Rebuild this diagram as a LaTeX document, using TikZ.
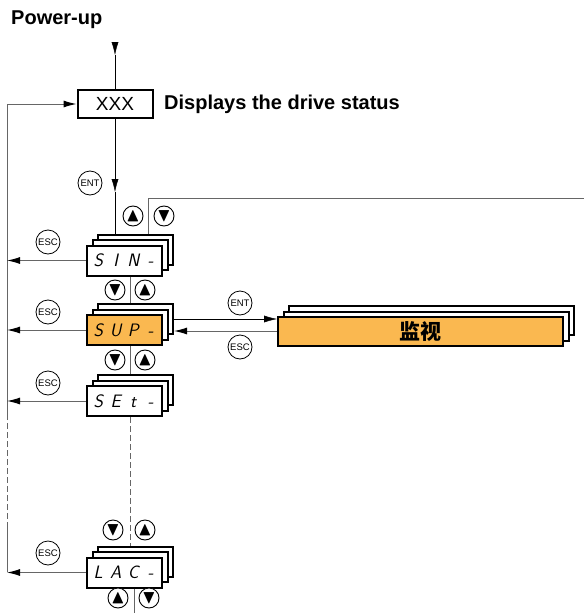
\documentclass[tikz,border=0pt]{standalone}
\usepackage{amsmath, amssymb}
\usepackage{fontspec}
\setmainfont{Liberation Sans}
\newfontfamily\cjk{Noto Sans CJK SC}
\usepackage{tikz}
\usetikzlibrary{positioning,arrows.meta}
\definecolor{monorange}{RGB}{250,184,80}
\newcommand{\seg}[4]{\makebox[17.5pt]{#1}\makebox[17.5pt]{#2}\makebox[17.5pt]{#3}\makebox[17.5pt]{#4}}
\newcommand{\up}{$\blacktriangle$}
\newcommand{\dn}{$\blacktriangledown$}

\begin{document}
\begin{tikzpicture}[x=1pt,y=-1pt]
\tikzstyle{card}=[rectangle, draw=black, line width=2pt, fill=white, minimum width=75pt, minimum height=30pt, inner sep=0pt, font=\sffamily\slshape\fontsize{18}{18}\selectfont]
\tikzstyle{key}=[circle, draw=black, line width=0.8pt, fill=white, minimum size=24pt, inner sep=0pt, font=\fontsize{9.5}{9.5}\selectfont]
\tikzstyle{arrowkey}=[circle, draw=black, line width=0.9pt, fill=white, minimum size=20pt, inner sep=0pt, font=\fontsize{19}{19}\selectfont]
\tikzstyle{link}=[draw=black!60, line width=1pt]
\tikzstyle{connect}=[-{Latex[length=13pt,width=7pt,color=black]}]
\tikzstyle{heading}=[anchor=west, inner sep=0pt, font=\bfseries\fontsize{20}{20}\selectfont]
\useasboundingbox (0,0) rectangle (584,613);

\node[heading] (pu) at (11,20) {Power-up};
\node[rectangle, draw=black, line width=2pt, minimum width=75pt, minimum height=28pt, font=\fontsize{19}{19}\selectfont] (xxx) at (115,104) {XXX};
\node[heading] (status) at (164,104) {Displays the drive status};

% menu cards
\node[card] (sin3) at (135.5,249.5) {};
\node[card] (sin2) at (130,255) {};
\node[card] (sin) at (124.5,260.5) {\seg{S}{I}{N}{-}};
\node[card] (sup3) at (135.5,319) {};
\node[card] (sup2) at (130,324.5) {};
\node[card, fill=monorange] (sup) at (124.5,330) {\seg{S}{U}{P}{-}};
\node[card] (set3) at (135.5,390) {};
\node[card] (set2) at (130,395.5) {};
\node[card] (set) at (124.5,401) {\seg{S}{E}{t}{-}};
\node[card] (lac3) at (135.5,561.5) {};
\node[card] (lac2) at (130,567) {};
\node[card] (lac) at (124.5,572.5) {\seg{L}{A}{C}{-}};

\node[card, minimum width=285pt, minimum height=29pt] (mon3) at (431.5,320.5) {};
\node[card, minimum width=285pt, minimum height=29pt] (mon2) at (426,326) {};
\node[card, minimum width=285pt, minimum height=29pt, fill=monorange, font=\cjk\bfseries\fontsize{21}{21}\selectfont] (mon) at (420.5,331.5) {监视};

% keys
\node[key] (ent1) at (90,183) {ENT};
\node[arrowkey] (up1) at (133,216) {\up};
\node[arrowkey] (dn1) at (164,216) {\dn};
\node[key] (esc1) at (48,242) {ESC};
\node[arrowkey] (dn2) at (115,290) {\dn};
\node[arrowkey] (up2) at (145,290) {\up};
\node[key] (esc2) at (48,312) {ESC};
\node[key] (ent2) at (240,303) {ENT};
\node[key] (esc5) at (240,347) {ESC};
\node[arrowkey] (dn3) at (115,360) {\dn};
\node[arrowkey] (up3) at (145,360) {\up};
\node[key] (esc3) at (48,383) {ESC};
\node[arrowkey] (dn4) at (113,530) {\dn};
\node[arrowkey] (up4) at (145,530) {\up};
\node[key] (esc4) at (48,553) {ESC};
\node[arrowkey] (up5) at (118,598) {\up};
\node[arrowkey] (dn5) at (149,598) {\dn};

\coordinate (putop) at (115,42);
\coordinate (putip) at (115,55);
\coordinate (enttip) at (115,192);
\coordinate (bend) at (148,198);
\coordinate (exit) at (584,198);
\coordinate (lt) at (7,104);
\coordinate (ls) at (7,418);
\coordinate (ld) at (7,528);
\coordinate (lb) at (7,572);
\coordinate (spine) at (130,0);
\coordinate (tail) at (134,613);
\coordinate (entrow) at (0,319);
\coordinate (escrow) at (0,331);

\draw[connect] (putop) -- (putip);
\draw (putip) -- (xxx.north);
\draw[connect] (xxx.south) -- (enttip);
\draw (enttip) -- (xxx.south |- sin3.north);
\draw[link] (bend |- sin3.north) -- (bend) -- (exit);

\draw[link] (lb) -- (ld);
\draw[link, dash pattern=on 6pt off 3pt] (ld) -- (ls);
\draw[link] (ls) -- (lt);
\draw[link, connect] (lt) -- (xxx);

\draw[link, connect] (sin) -- (sin -| lt);
\draw[link, connect] (sup) -- (sup -| lt);
\draw[link, connect] (set) -- (set -| lt);
\draw[link, connect] (lac) -- (lac -| lt);

\draw[link] (spine |- sin.south) -- (spine |- sup3.north);
\draw[link] (spine |- sup.south) -- (spine |- set3.north);
\draw[link, dash pattern=on 6pt off 3pt] (spine |- set.south) -- (spine |- lac3.north);
\draw[link] (tail |- lac.south) -- (tail);

\draw[connect] (sup3.east |- entrow) -- (mon.west |- entrow);
\draw[link, connect] (mon.west |- escrow) -- (sup3.east |- escrow);

\end{tikzpicture}
\end{document}
